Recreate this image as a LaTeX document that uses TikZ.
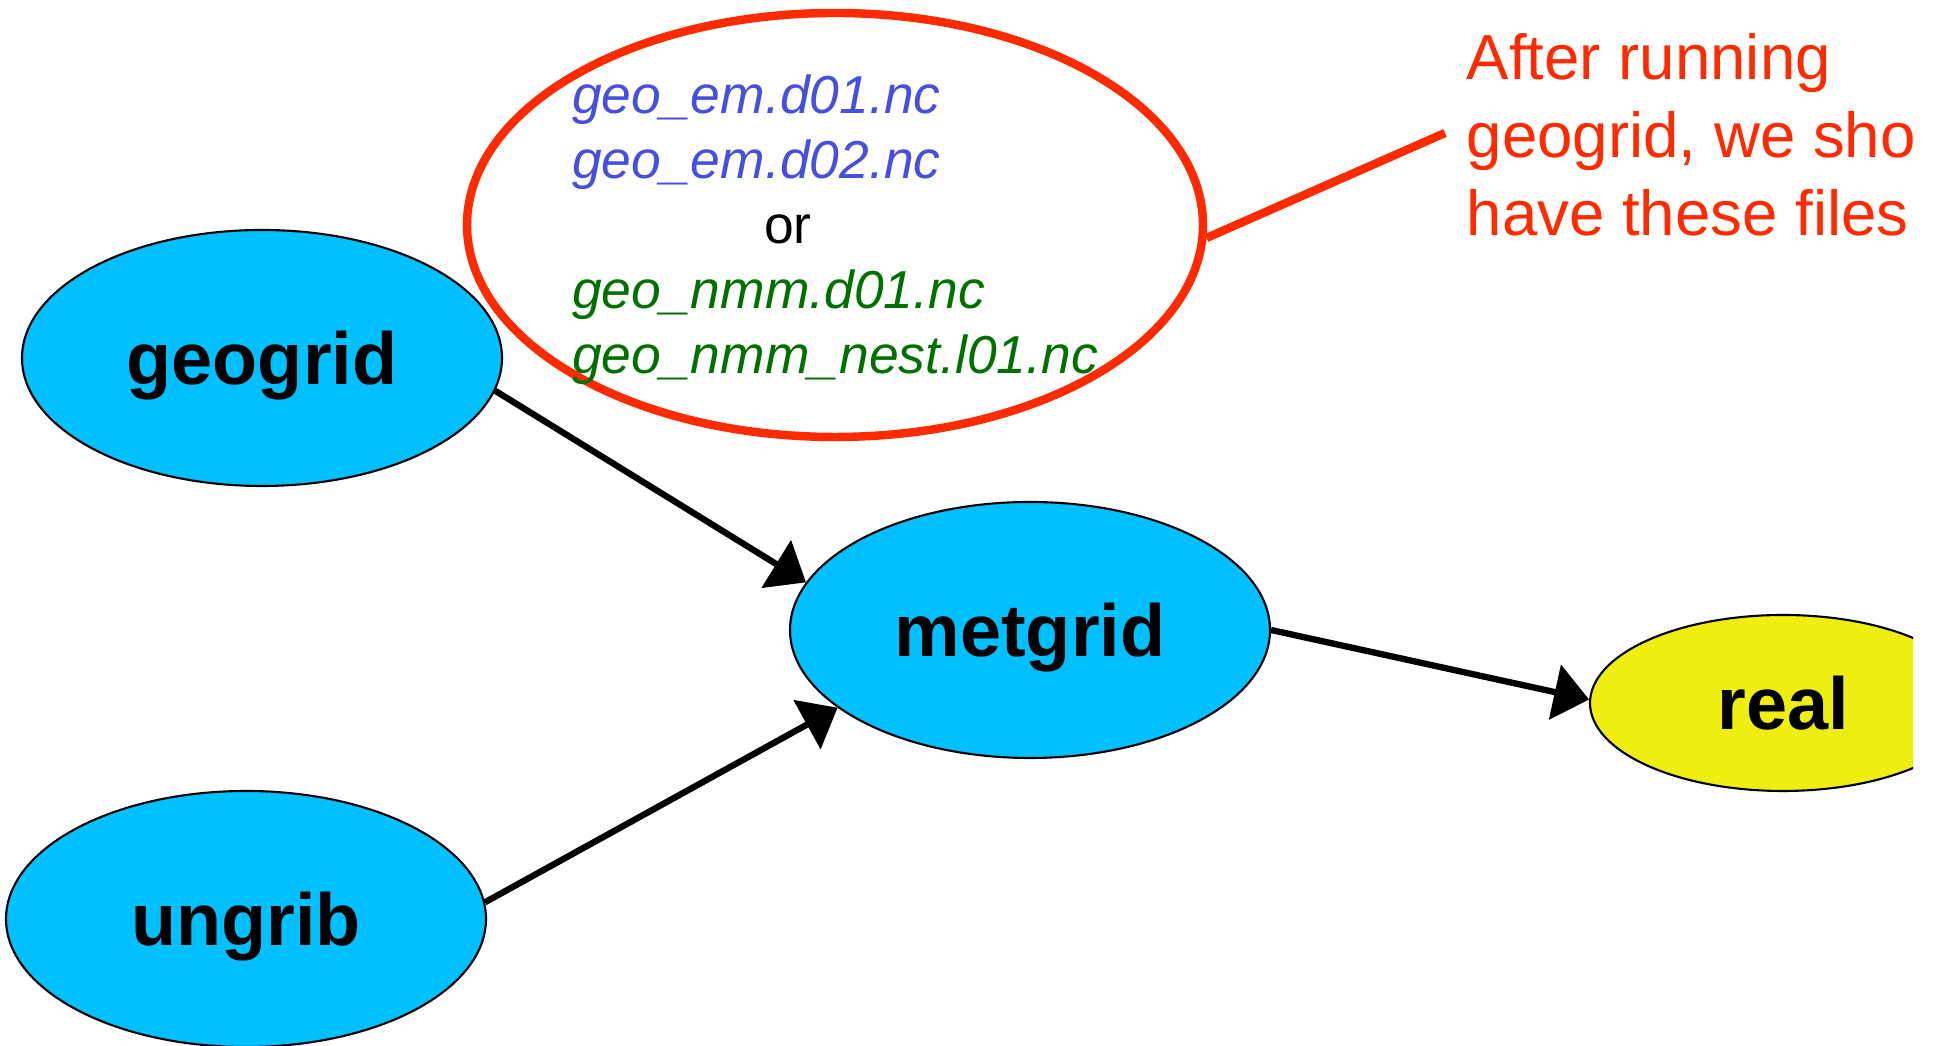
\documentclass[tikz,border=0pt]{standalone}
\usepackage{fontspec}
\setmainfont{Liberation Sans}
\usetikzlibrary{shapes.geometric,arrows.meta}
\definecolor{skyfill}{HTML}{00C0FF}
\definecolor{realfill}{HTML}{EEEE11}
\definecolor{notered}{HTML}{FF2A00}
\definecolor{emblue}{HTML}{4650DC}
\definecolor{nmmgreen}{HTML}{007000}
\tikzset{>={Triangle[length=3.5mm,width=5.5mm]}}
\tikzset{%
    prog/.style={%
        ellipse, draw, line width=0.6pt, fill=skyfill, inner sep=0pt,
        minimum width=4.8cm, minimum height=2.56cm, text depth=0pt,
        font=\fontsize{21}{25}\selectfont\bfseries
    },
    flow/.style={->, line width=1.8pt}
}

\begin{document}
\begin{tikzpicture}
  \useasboundingbox (0,0) rectangle (19.37,10.46);
  \clip (0,0) rectangle (19.13,10.46);
  \node[prog] (geogrid) at (2.62,6.88) {geogrid};
  \node[prog] (ungrib) at (2.46,1.27) {ungrib};
  \node[prog] (metgrid) at (10.30,4.16) {metgrid};
  \node[prog, fill=realfill, minimum width=3.86cm, minimum height=1.76cm] (real) at (17.83,3.43) {real};
  \draw[flow] (geogrid.-8) -- (metgrid.168);
  \draw[flow] (ungrib.4) -- (metgrid.202);
  \draw[flow] (metgrid.east) -- (real.179);
  % output files of geogrid
  \node[ellipse, draw=notered, line width=2.4pt, minimum width=7.36cm, minimum height=4.24cm] (files) at (8.35,8.21) {};
  \node[align=left, inner sep=0pt, font=\fontsize{15.2}{18.5}\selectfont] (filelist) at ([yshift=-0.05cm]files) {%
    \textcolor{emblue}{\itshape geo\_em.d01.nc}\\
    \textcolor{emblue}{\itshape geo\_em.d02.nc}\\
    \hspace*{1.92cm}or\\
    \textcolor{nmmgreen}{\itshape geo\_nmm.d01.nc}\\
    \textcolor{nmmgreen}{\itshape geo\_nmm\_nest.l01.nc}};
  \coordinate (callout) at (14.45,9.13);
  \draw[notered, line width=2.4pt] (files.-2) -- (callout);
  \node[anchor=base west, align=left, inner sep=0pt, text=notered, font=\fontsize{18.1}{22.3}\selectfont] (note) at (14.66,8.10) {After running\\geogrid, we should\\have these files};
\end{tikzpicture}
\end{document}
